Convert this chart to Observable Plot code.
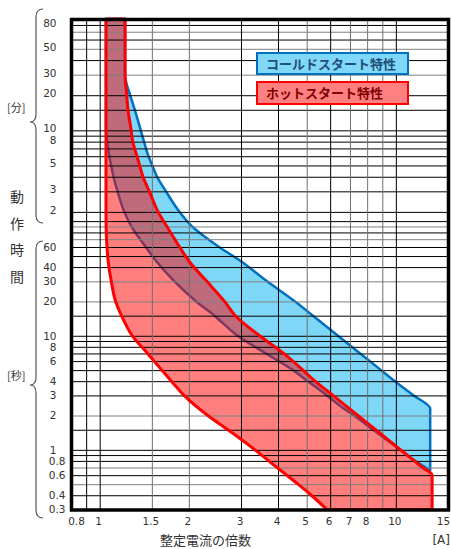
<!DOCTYPE html>
<html><head><meta charset="utf-8">
<script src="https://cdn.jsdelivr.net/npm/d3@7"></script>
<script src="https://cdn.jsdelivr.net/npm/@observablehq/plot@0.6"></script>
<style>
body{margin:0;background:#fff;}
#wrap{position:relative;width:451px;height:549px;overflow:hidden;font-family:"DejaVu Sans",sans-serif;color:#333;background:#fff;}
.a{position:absolute;white-space:nowrap;}
.jp{font-family:"Noto Sans CJK JP",sans-serif;}
.box{position:absolute;box-sizing:border-box;left:256px;width:153px;border:2px solid;padding-left:8px;font-weight:bold;font-size:13px;font-family:"Noto Sans CJK JP",sans-serif;}
</style></head><body>
<div id="wrap"></div>
<script>
// ---- data (time in seconds, current as multiple of setting) ----
const redTimes  = [5400,3000,1800,1200,900,600,480,360,300,240,180,120,90,60,45,30,20,15,10,7,5,4,3,2,1.5,1,0.8,0.7,0.6,0.5,0.4,0.3];
const redLeft   = [1.05,1.05,1.05,1.05,1.05,1.05,1.05,1.05,1.05,1.05,1.05,1.05,1.051,1.058,1.068,1.094,1.132,1.185,1.289,1.451,1.62,1.747,1.927,2.317,2.711,3.345,3.721,3.968,4.28,4.674,5.183,5.85];
const redRight  = [1.218,1.218,1.218,1.234,1.246,1.277,1.293,1.336,1.364,1.4,1.471,1.575,1.686,1.862,2.003,2.301,2.64,2.87,3.47,4.18,4.856,5.338,6.131,7.446,8.546,10.38,11.55,12.31,13.26,13.26,13.26,13.26];
const blueTimes = [5400,3000,1800,1200,900,600,480,360,300,240,180,120,90,60,45,30,20,15,10,7,5,4,3,2.3,2,1.5,1,0.8,0.66];
const blueLeft  = [1.05,1.05,1.05,1.05,1.05,1.05,1.06,1.078,1.093,1.113,1.149,1.211,1.279,1.431,1.553,1.788,2.118,2.44,2.921,3.641,4.492,5.039,5.847,6.662,7.22,8.381,10.35,11.62,13.06];
const blueRight = [1.218,1.218,1.218,1.267,1.314,1.376,1.411,1.461,1.505,1.562,1.674,1.86,2.05,2.53,2.998,3.675,4.566,5.248,6.374,7.574,8.905,9.922,11.48,13.06,13.06,13.06,13.06,13.06,13.06];

const xTicks      = [1,1.5,2,3,4,5,6,7,8,9,10];
const xTickFirst  = [0.8];
const xTickLast   = [15];
const xGridBlack  = [0.9,1,3,4,6,10];
const xGridGray   = [1.5,2,5,7,8,9];
const secIntTicks = [1,2,3,4,6,8,10,20,30,40,60];
const secDecTicks = [0.3,0.4,0.6,0.8];
const minTicks    = [2,3,5,8,10,20,30,50,80];
const hGridBlack  = [0.4,0.6,0.8,0.9,1,1.5,3,4,5,6,7,8,9,10,15,40,50,60,80,100,120,180,240,300,360,420,480,540,600,900,1200,2400,3600,4800];
const hGridGray   = [0.5,0.7,2,20,30,70,90,1800,3000,4200];

const red  = redTimes.map((t,i)=>({t, x1:redLeft[i],  x2:redRight[i]}));
const blue = blueTimes.map((t,i)=>({t, x1:blueLeft[i], x2:blueRight[i]}));

const txt = {frameAnchor:"left", textAnchor:"end", fill:"#333", fontSize:10.5};

const chart = Plot.plot({
  width:451, height:549,
  marginTop:19, marginBottom:39.5, marginLeft:71, marginRight:3,
  x:{type:"log", domain:[0.8,15]},
  y:{type:"log", domain:[0.3,60,5400], range:[509.5,247,19], axis:null},
  style:{fontFamily:"DejaVu Sans, sans-serif", fontSize:"10.5px", color:"#333", background:"transparent"},
  marks:[
    Plot.areaX(blue,{y:"t",x1:"x1",x2:"x2",fill:"#00b0f0",fillOpacity:0.5,stroke:"#0070c0",strokeWidth:2.5,curve:"monotone-y"}),
    Plot.areaX(red,{y:"t",x1:"x1",x2:"x2",fill:"#ff0000",fillOpacity:0.5,curve:"monotone-y"}),
    Plot.ruleY(hGridGray,{stroke:"#808080",strokeWidth:1}),
    Plot.ruleY(hGridBlack,{stroke:"#000",strokeWidth:1}),
    Plot.ruleX(xGridGray,{stroke:"#707070",strokeWidth:1}),
    Plot.ruleX(xGridBlack,{stroke:"#000",strokeWidth:1}),
    Plot.areaX(red,{y:"t",x1:"x1",x2:"x2",fill:"none",stroke:"#ff0000",strokeWidth:3,curve:"monotone-y"}),
    Plot.frame({stroke:"#000",strokeWidth:3.5}),
    Plot.axisX({ticks:xTicks,tickSize:0,tickPadding:8,tickFormat:d=>String(d),label:null,dx:-1.5}),
    Plot.axisX({ticks:xTickFirst,tickSize:0,tickPadding:8,tickFormat:d=>String(d),label:null,dx:5}),
    Plot.axisX({ticks:xTickLast,tickSize:0,tickPadding:8,tickFormat:d=>String(d),label:null,dx:-5}),
    Plot.text(secIntTicks,{...txt, y:d=>d, text:d=>String(d), dx:-15}),
    Plot.text(secDecTicks,{...txt, y:d=>d, text:d=>String(d), dx:-6}),
    Plot.text(minTicks,{...txt, y:d=>d*60, text:d=>String(d), dx:-15, dy:-2})
  ]
});

const wrap = document.getElementById("wrap");
chart.style.position = "absolute";
chart.style.left = "0px";
chart.style.top = "0px";
wrap.appendChild(chart);

// braces
const ns = "http://www.w3.org/2000/svg";
const deco = document.createElementNS(ns,"svg");
deco.setAttribute("width","60"); deco.setAttribute("height","549");
deco.style.position="absolute"; deco.style.left="0"; deco.style.top="0";
["M43,9 Q36,9 36,17 L36,114 Q36,122 30,122 Q36,122 36,130 L36,215 Q36,223 43,223",
 "M43,241 Q36,241 36,249 L36,377 Q36,385 30,385 Q36,385 36,393 L36,510 Q36,518 43,518"].forEach(d=>{
  const p=document.createElementNS(ns,"path");
  p.setAttribute("d",d); p.setAttribute("fill","none");
  p.setAttribute("stroke","#555"); p.setAttribute("stroke-width","1.2");
  deco.appendChild(p);
});
wrap.appendChild(deco);

function addText(html, css, cls){
  const d=document.createElement("div");
  d.className="a "+(cls||"");
  d.innerHTML=html;
  Object.assign(d.style,css);
  wrap.appendChild(d);
  return d;
}
addText("[分]",{left:"7px",top:"99px",fontSize:"11px",lineHeight:"16px"},"jp");
addText("[秒]",{left:"7px",top:"367px",fontSize:"11px",lineHeight:"16px"},"jp");
addText("動<br>作<br>時<br>間",{left:"7px",top:"183px",width:"20px",textAlign:"center",fontSize:"14px",lineHeight:"26.7px"},"jp");
addText("整定電流の倍数",{left:"160px",top:"531px",fontSize:"13px",lineHeight:"18px"},"jp");
addText("[A]",{right:"1px",top:"532px",fontSize:"12px",lineHeight:"16px"});

const b1=document.createElement("div");
b1.className="box"; b1.textContent="コールドスタート特性";
Object.assign(b1.style,{top:"52px",height:"23px",lineHeight:"19px",background:"#80d8f8",borderColor:"#0070c0",color:"#1f4e79"});
wrap.appendChild(b1);
const b2=document.createElement("div");
b2.className="box"; b2.textContent="ホットスタート特性";
Object.assign(b2.style,{top:"81px",height:"24px",lineHeight:"20px",background:"#ff8080",borderColor:"#ff0000",color:"#7f0000"});
wrap.appendChild(b2);
</script>
</body></html>
